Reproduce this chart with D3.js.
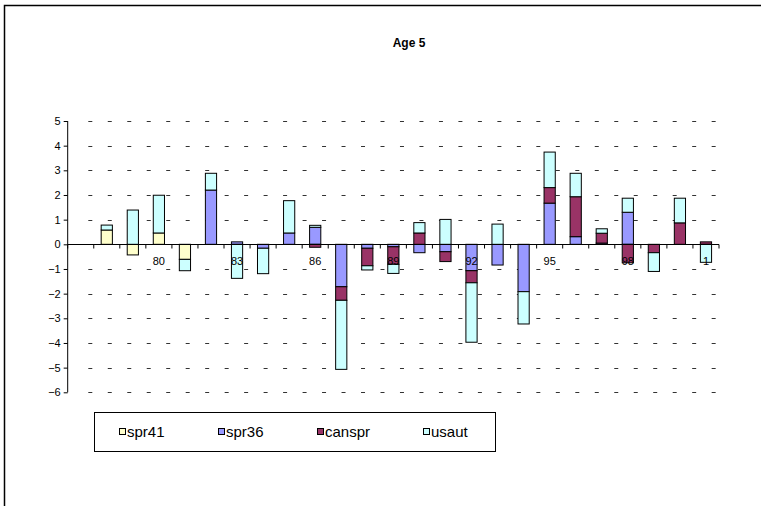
<!DOCTYPE html>
<html><head><meta charset="utf-8">
<script src="https://cdn.jsdelivr.net/npm/d3@7"></script>
<style>body{margin:0;background:#fff}svg{display:block;font-family:"Liberation Sans",Arial,sans-serif}</style>
</head><body>
<script>
const years = ["77","78","79","80","81","82","83","84","85","86","87","88","89","90","91","92","93","94","95","96","97","98","99","0","1"];
const tickLabels = ["80","83","86","89","92","95","98","1"];
const spr41  = [0,0.58,-0.43,0.46,-0.61,0,0,0,0,0,0,0,0,0,0,0,0,0,0,0,0,0,0,0,0];
const spr36  = [0,0,0,0,0,2.2,0.1,-0.16,0.46,0.69,-1.72,-0.16,-0.1,-0.34,-0.3,-1.07,-0.84,-1.92,1.67,0.31,0.05,1.3,0,0,0];
const canspr = [0,0,0,0,0,0,0,0,0,-0.12,-0.55,-0.71,-0.71,0.46,-0.4,-0.49,0,0,0.63,1.62,0.4,-0.75,-0.34,0.87,0.1];
const usaut  = [0,0.2,1.39,1.53,-0.46,0.68,-1.38,-1.03,1.31,0.08,-2.8,-0.17,-0.37,0.42,1.01,-2.41,0.82,-1.31,1.44,0.95,0.18,0.57,-0.76,1.0,-0.73];
const seriesNames = ["spr41","spr36","canspr","usaut"];
const colors = ["#FFFFCC","#9999FF","#993366","#CCFFFF"];
const yTicks = [5,4,3,2,1,0,-1,-2,-3,-4,-5,-6];

const W=761,H=506;
const svg=d3.select("body").append("svg").attr("width",W).attr("height",H);
svg.append("rect").attr("width",W).attr("height",H).attr("fill","#fff");
svg.append("path").attr("d",`M4.5,${H+5} V5.5 H${W+5}`).attr("fill","none").attr("stroke","#000").attr("stroke-width",1.5);

const x=d3.scaleBand().domain(years).range([67.7,719]).padding(0);
const y=d3.scaleLinear().domain([-6,5]).range([392.3,121]);
const barW = x.bandwidth()*0.43;

const gridStart=88.3, gridEnd=719;
svg.append("g").selectAll("line").data(yTicks).join("line")
  .attr("x1",gridStart).attr("x2",gridEnd)
  .attr("y1",d=>Math.round(y(d))+0.5).attr("y2",d=>Math.round(y(d))+0.5)
  .attr("stroke",d=>d===0?"none":"#333").attr("stroke-width",1)
  .attr("stroke-dasharray","4 15.48");

const rows = years.map((yr,i)=>({year:yr,spr41:spr41[i],spr36:spr36[i],canspr:canspr[i],usaut:usaut[i]}));
const stack=d3.stack().keys(seriesNames).offset(d3.stackOffsetDiverging);
const layers=stack(rows);

const gBars=svg.append("g");
layers.forEach((layer,li)=>{
  gBars.append("g").selectAll("rect")
    .data(layer.filter(d=>Math.abs(d[1]-d[0])>1e-9))
    .join("rect")
    .attr("x",d=>x(d.data.year)+x.bandwidth()/2-barW/2)
    .attr("width",barW)
    .attr("y",d=>y(Math.max(d[0],d[1])))
    .attr("height",d=>Math.abs(y(d[0])-y(d[1])))
    .attr("fill",colors[li]).attr("stroke","#000").attr("stroke-width",1);
});

const yAxis=d3.axisLeft(y).tickValues(yTicks).tickSize(4).tickFormat(d3.format("d"));
const gy=svg.append("g").attr("transform","translate(67.7,0)").call(yAxis);
gy.select(".domain").attr("stroke","#000").attr("d",`M0,${y(5)}V${y(-6)}`);
gy.selectAll(".tick line").attr("stroke","#000");
gy.selectAll("text").attr("font-family","Liberation Sans, Arial, sans-serif").attr("font-size",11).attr("fill","#000").attr("x",-7);

const y0=Math.round(y(0))+0.5;
svg.append("line").attr("x1",67.7).attr("x2",719).attr("y1",y0).attr("y2",y0).attr("stroke","#000");
const edges=years.map(d=>x(d)).concat([x(years[years.length-1])+x.bandwidth()]);
svg.append("g").selectAll("line").data(edges).join("line")
  .attr("x1",d=>d).attr("x2",d=>d).attr("y1",y0).attr("y2",y0+4).attr("stroke","#000");
svg.append("g").selectAll("text").data(tickLabels).join("text")
  .attr("x",d=>x(d)+x.bandwidth()/2).attr("y",265)
  .attr("text-anchor","middle").attr("font-size",11).attr("fill","#000").text(d=>d);

svg.append("text").attr("x",409).attr("y",47).attr("text-anchor","middle")
  .attr("font-weight","bold").attr("font-size",12).text("Age 5");

const lg=svg.append("g");
lg.append("rect").attr("x",94.5).attr("y",412.5).attr("width",401).attr("height",39)
  .attr("fill","#fff").attr("stroke","#000");
const lx=[119.5,218.5,317.5,423.5];
seriesNames.forEach((n,i)=>{
  lg.append("rect").attr("x",lx[i]).attr("y",428.5).attr("width",6).attr("height",6)
    .attr("fill",colors[i]).attr("stroke","#000");
  lg.append("text").attr("x",lx[i]+7.5).attr("y",437).attr("font-size",15).text(n);
});
</script>
</body></html>
